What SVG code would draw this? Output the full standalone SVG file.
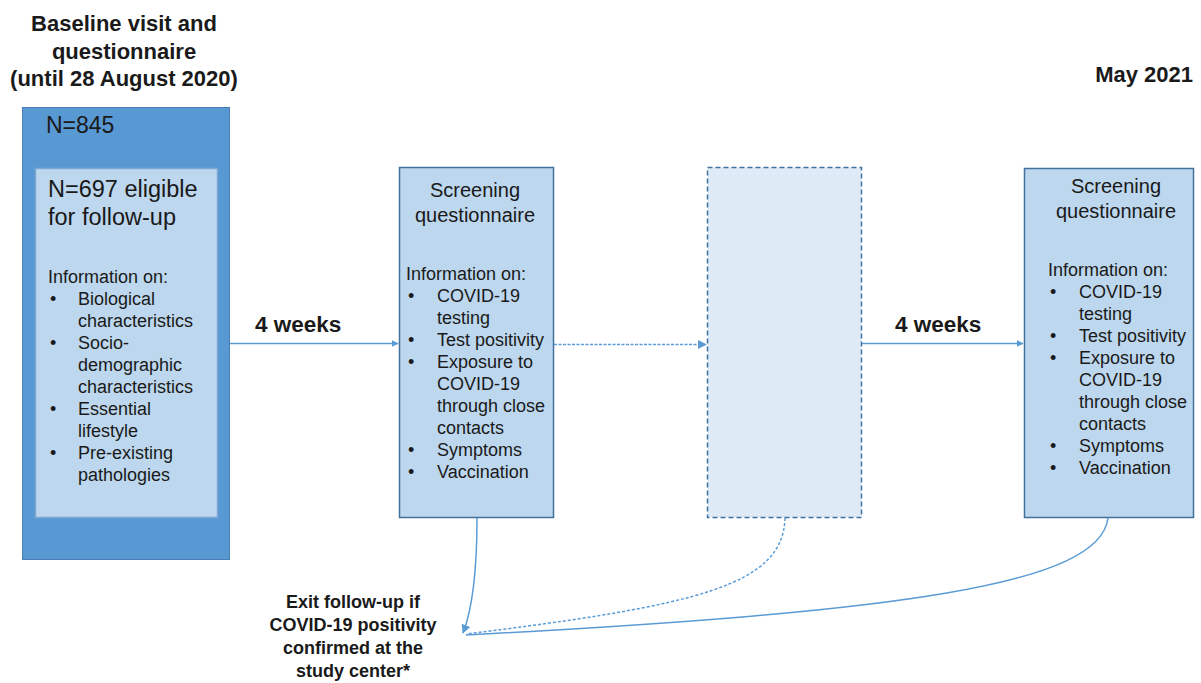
<svg xmlns="http://www.w3.org/2000/svg" width="1201" height="683" viewBox="0 0 1201 683">
<style>
.t{font-family:"Liberation Sans",Arial,sans-serif;fill:#1a1a1a}
.b{font-weight:bold}
.info{font-size:18px}
.conn{fill:none;stroke:#5B9BD5;stroke-width:1.5}
</style>
<defs>
<marker id="ah" viewBox="0 0 10 10" refX="9" refY="5" markerWidth="7" markerHeight="7" orient="auto" markerUnits="userSpaceOnUse">
<path d="M0,0 L10,5 L0,10 z" fill="#5B9BD5"/>
</marker>
<marker id="ah2" viewBox="0 0 10 10" refX="9" refY="5" markerWidth="9" markerHeight="9" orient="auto" markerUnits="userSpaceOnUse">
<path d="M0,0 L10,5 L0,10 z" fill="#5B9BD5"/>
</marker>
</defs>
<rect width="1201" height="683" fill="#ffffff"/>

<g id="title-baseline">
<text class="t b" font-size="22" text-anchor="middle"><tspan x="124" y="31">Baseline visit and</tspan><tspan x="124" y="59">questionnaire</tspan><tspan x="124" y="86">(until 28 August 2020)</tspan></text>
</g>
<g id="title-may">
<text class="t b" font-size="22" text-anchor="end" x="1193" y="82">May 2021</text>
</g>

<g id="baseline-box">
<rect x="22.5" y="107.5" width="207" height="452" fill="#5898D3" stroke="#4A7EB5" stroke-width="1"/>
<text class="t" font-size="23" x="46" y="133">N=845</text>
</g>

<g id="eligible-box">
<rect x="35.5" y="168.5" width="182" height="349" fill="#BDD7EE" stroke="#7FA7D4" stroke-width="1.5"/>
<text class="t" font-size="23.5"><tspan x="48" y="197">N=697 eligible</tspan><tspan x="48" y="225">for follow-up</tspan></text>
<text class="t info"><tspan x="48" y="283">Information on:</tspan></text>
<text class="t info">
<tspan x="50" y="305">•</tspan><tspan x="78" y="305">Biological</tspan>
<tspan x="78" y="327">characteristics</tspan>
<tspan x="50" y="349">•</tspan><tspan x="78" y="349">Socio-</tspan>
<tspan x="78" y="371">demographic</tspan>
<tspan x="78" y="393">characteristics</tspan>
<tspan x="50" y="415">•</tspan><tspan x="78" y="415">Essential</tspan>
<tspan x="78" y="437">lifestyle</tspan>
<tspan x="50" y="459">•</tspan><tspan x="78" y="459">Pre-existing</tspan>
<tspan x="78" y="481">pathologies</tspan>
</text>
</g>

<g id="screening-1">
<rect x="399.5" y="167.5" width="154" height="350" fill="#BDD7EE" stroke="#41719C" stroke-width="1.5"/>
<text class="t" font-size="20" text-anchor="middle"><tspan x="475" y="197">Screening</tspan><tspan x="475" y="222">questionnaire</tspan></text>
<text class="t info">
<tspan x="406" y="280">Information on:</tspan>
<tspan x="408" y="302">•</tspan><tspan x="437" y="302">COVID-19</tspan>
<tspan x="437" y="324">testing</tspan>
<tspan x="408" y="346">•</tspan><tspan x="437" y="346">Test positivity</tspan>
<tspan x="408" y="368">•</tspan><tspan x="437" y="368">Exposure to</tspan>
<tspan x="437" y="390">COVID-19</tspan>
<tspan x="437" y="412">through close</tspan>
<tspan x="437" y="434">contacts</tspan>
<tspan x="408" y="456">•</tspan><tspan x="437" y="456">Symptoms</tspan>
<tspan x="408" y="478">•</tspan><tspan x="437" y="478">Vaccination</tspan>
</text>
</g>

<g id="screening-2-dashed">
<rect x="707.5" y="167.5" width="154" height="350" fill="#DEEBF7" stroke="#41719C" stroke-width="1.5" stroke-dasharray="5,3"/>
</g>

<g id="screening-3">
<rect x="1024.5" y="168.5" width="169" height="349" fill="#BDD7EE" stroke="#41719C" stroke-width="1.5"/>
<text class="t" font-size="20" text-anchor="middle"><tspan x="1116" y="193">Screening</tspan><tspan x="1116" y="218">questionnaire</tspan></text>
<text class="t info">
<tspan x="1048" y="276">Information on:</tspan>
<tspan x="1050" y="298">•</tspan><tspan x="1079" y="298">COVID-19</tspan>
<tspan x="1079" y="320">testing</tspan>
<tspan x="1050" y="342">•</tspan><tspan x="1079" y="342">Test positivity</tspan>
<tspan x="1050" y="364">•</tspan><tspan x="1079" y="364">Exposure to</tspan>
<tspan x="1079" y="386">COVID-19</tspan>
<tspan x="1079" y="408">through close</tspan>
<tspan x="1079" y="430">contacts</tspan>
<tspan x="1050" y="452">•</tspan><tspan x="1079" y="452">Symptoms</tspan>
<tspan x="1050" y="474">•</tspan><tspan x="1079" y="474">Vaccination</tspan>
</text>
</g>

<g id="exit-label">
<text class="t b" font-size="18" text-anchor="middle"><tspan x="353" y="608">Exit follow-up if</tspan><tspan x="353" y="631">COVID-19 positivity</tspan><tspan x="353" y="654">confirmed at the</tspan><tspan x="353" y="677">study center*</tspan></text>
</g>

<g id="connectors">
<line class="conn" x1="230" y1="343.5" x2="398" y2="343.5" marker-end="url(#ah)"/>
<line class="conn" x1="554" y1="344.5" x2="706" y2="344.5" stroke-dasharray="3,1.5" marker-end="url(#ah2)"/>
<line class="conn" x1="862" y1="343.5" x2="1023" y2="343.5" marker-end="url(#ah)"/>
<path class="conn" d="M477,518 C477,570 472,610 463,633" marker-end="url(#ah2)"/>
<path class="conn" d="M785,518 C783,585 700,605 466,634" stroke-dasharray="3,2"/>
<path class="conn" d="M1108,518 C1100,585 900,612 466,635"/>
<text class="t b" font-size="22.5" x="255" y="332">4 weeks</text>
<text class="t b" font-size="22.5" x="895" y="332">4 weeks</text>
</g>
</svg>
